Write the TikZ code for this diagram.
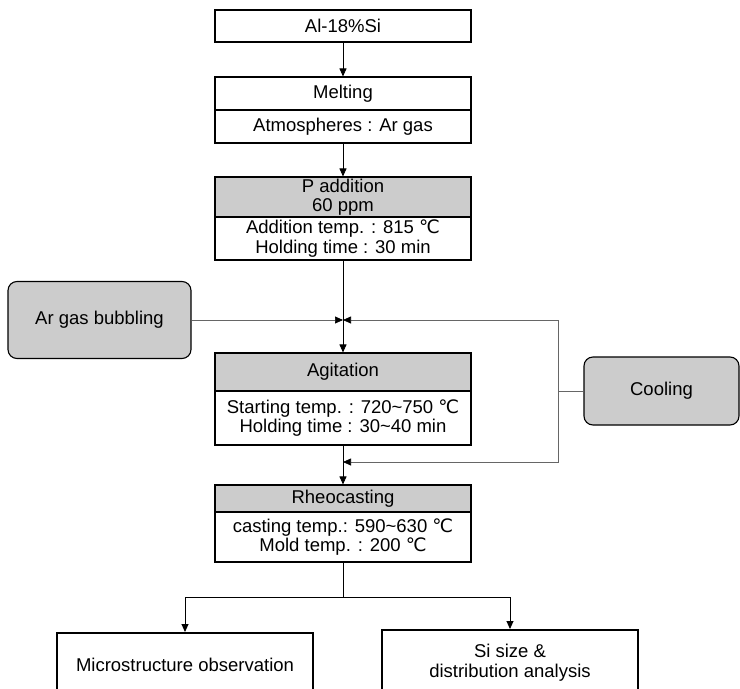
\documentclass[tikz,border=0pt]{standalone}
\usepackage{fontspec}
\setmainfont{Liberation Sans}
\newfontfamily\dvfont{DejaVu Sans}
\usetikzlibrary{arrows.meta}
\newcommand{\degc}{{\dvfont ℃}}
\tikzset{
  box/.style={draw, line width=1.1pt, minimum width=256pt, inner sep=0pt, align=center, fill=white},
  head/.style={box, fill=gray!40},
  side/.style={draw, line width=1.1pt, rounded corners=9pt, fill=gray!40, inner sep=0pt, align=center},
  final/.style={draw, line width=2pt, minimum width=256pt, inner sep=0pt, align=center},
  arr/.style={-{Triangle[length=8pt,width=7pt]}, line width=0.9pt},
  feedarr/.style={-{Triangle[length=8pt,width=7pt,color=black]}, line width=0.7pt, black!60},
  feed/.style={line width=0.7pt, black!60}
}
\begin{document}
\begin{tikzpicture}[x=1pt,y=-1pt,font=\fontsize{18.5}{19.5}\selectfont]
\useasboundingbox (0,0) rectangle (740,689);
% main column
\node[box, minimum height=32pt] (al) at (343,26) {Al-18\%Si};
\node[box, minimum height=33pt] (melt) at (343,93.5) {Melting};
\node[box, minimum height=33pt] (meltb) at (343,126.5) {Atmospheres : Ar gas};
\node[head, minimum height=40pt] (padd) at (343,197) {P addition\\60 ppm};
\node[box, minimum height=43pt] (paddb) at (343,238.5) {Addition temp. : 815 \degc\\Holding time : 30 min};
\node[head, minimum height=38pt] (agit) at (343,372) {Agitation};
\node[box, minimum height=54pt] (agitb) at (343,418) {Starting temp. : 720\textasciitilde750 \degc\\Holding time : 30\textasciitilde40 min};
\node[head, minimum height=27pt] (rheo) at (343,498.5) {Rheocasting};
\node[box, minimum height=50pt] (rheob) at (343,537) {casting temp.: 590\textasciitilde630 \degc\\Mold temp. : 200 \degc};
% side boxes
\node[side, minimum width=183pt, minimum height=77pt] (ar) at (99.5,320) {Ar gas bubbling};
\node[side, minimum width=155pt, minimum height=68pt] (cool) at (661.5,391) {Cooling};
% final boxes
\node[final, minimum height=64pt] (micro) at (185,665) {Microstructure observation};
\node[final, minimum height=65pt] (si) at (510,662.5) {Si size \&\\distribution analysis};
% helper coordinates
\coordinate (j) at (343,320);
\coordinate (k) at (343,462);
\coordinate (cv) at (558,391);
\coordinate (b) at (343,597);
% connectors
\draw[arr] (al) -- (melt);
\draw[arr] (meltb) -- (padd);
\draw[arr] (paddb) -- (agit);
\draw[arr] (agitb) -- (rheo);
\draw[feedarr] (ar) -- (j);
\draw[feed] (cool) -- (cv);
\draw[feedarr] (cv) |- (j);
\draw[feedarr] (cv) |- (k);
\draw[line width=0.9pt] (rheob) -- (b);
\draw[arr] (b) -| (micro.north);
\draw[arr] (b) -| (si.north);
\end{tikzpicture}
\end{document}
